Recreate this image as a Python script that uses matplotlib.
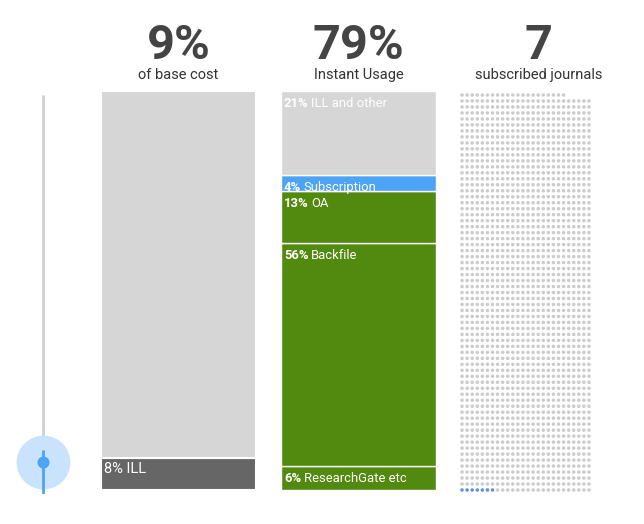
import matplotlib
matplotlib.use("Agg")
import matplotlib.pyplot as plt
import numpy as np

plt.rcParams['font.family'] = ['Roboto', 'DejaVu Sans']

# header numbers
headers = ["9%", "79%", "7"]
subtitles = ["of base cost", "Instant Usage", "subscribed journals"]

# bar 1: base cost (bottom -> top)
cost_pct = [8, 92]
cost_names = ["ILL", ""]
cost_colors = ["#666666", "#d6d6d6"]

# bar 2: instant usage (bottom -> top)
usage_pct = [6, 56, 13, 4, 21]
usage_names = ["ResearchGate etc", "Backfile", "OA", "Subscription", "ILL and other"]
usage_colors = ["#518a0f", "#518a0f", "#518a0f", "#4da3f5", "#d6d6d6"]

# dot grid of journals
n_journals = 1737
n_subscribed = 7
grid_cols = 26

# slider
slider_value = 8

W, H = 644, 524
fig = plt.figure(figsize=(W / 100, H / 100), dpi=100)
fig.patch.set_facecolor("white")


def add_ax(x0, y0, x1, y1):
    # pixel box (top-left origin) -> figure axes
    ax = fig.add_axes([x0 / W, 1 - y1 / H, (x1 - x0) / W, (y1 - y0) / H])
    ax.set_axis_off()
    return ax


def seg_label(ax, top_val, pct, name, bold):
    if bold:
        t1 = ax.annotate(f"{pct}%", xy=(-0.5, top_val), xytext=(3, -6),
                         textcoords="offset pixels", va="top", ha="left",
                         color="white", fontsize=9.4, fontweight="bold")
        fig.canvas.draw()
        w = t1.get_window_extent().width
        ax.annotate(name, xy=(-0.5, top_val), xytext=(3 + w + 2.5, -6),
                    textcoords="offset pixels", va="top", ha="left",
                    color="white", fontsize=9.4)
    else:
        ax.annotate(f"{pct}% {name}", xy=(-0.5, top_val), xytext=(3, -4),
                    textcoords="offset pixels", va="top", ha="left",
                    color="white", fontsize=10.5)


# bar 1
ax1 = add_ax(101, 91, 256, 490)
bottom = 0
for p, n, c in zip(cost_pct, cost_names, cost_colors):
    ax1.bar(0, p, bottom=bottom, width=1, color=c, edgecolor="white", linewidth=1.5)
    if n:
        seg_label(ax1, bottom + p, p, n, False)
    bottom += p
ax1.set_xlim(-0.5, 0.5)
ax1.set_ylim(0, 100)

# bar 2
ax2 = add_ax(281, 91, 436, 490)
bottom = 0
for p, n, c in zip(usage_pct, usage_names, usage_colors):
    ax2.bar(0, p, bottom=bottom, width=1, color=c, edgecolor="white", linewidth=1)
    seg_label(ax2, bottom + p, p, n, True)
    bottom += p
ax2.set_xlim(-0.5, 0.5)
ax2.set_ylim(0, 100)

# dot grid
n_rows = int(np.ceil(n_journals / grid_cols))
ax3 = add_ax(459.5, 92, 591.5, 493)
idx = np.arange(n_journals)
rows, cols = np.divmod(idx, grid_cols)
colors = np.where(idx < n_subscribed, "#5b93d3", "#cccccc")
ax3.scatter(cols, rows, s=6.5, c=colors, linewidths=0)
ax3.set_xlim(-0.5, grid_cols - 0.5)
ax3.set_ylim(-0.5, n_rows - 0.5)

# headers
centers = [178.5, 358.5, 538.5]
for cx, h, s in zip(centers, headers, subtitles):
    fig.text(cx / W, 1 - 59 / H, h, ha="center", va="baseline",
             fontsize=35, fontweight="bold", color="#444444")
    fig.text(cx / W, 1 - 79 / H, s, ha="center", va="baseline",
             fontsize=10.5, color="#333333")

# slider
ax0 = add_ax(13, 95, 73, 494)
ax0.plot([0, 0], [slider_value, 100], color="#cfcfcf", lw=2, solid_capstyle="butt")
ax0.scatter([0], [slider_value], s=1500, color="#c9e3fc", zorder=3, clip_on=False, linewidths=0)
ax0.plot([0, 0], [0, slider_value + 3], color="#4da3f5", lw=2, zorder=4, solid_capstyle="butt")
ax0.scatter([0], [slider_value], s=75, color="#4da3f5", zorder=5, clip_on=False, linewidths=0)
ax0.set_xlim(-1, 1)
ax0.set_ylim(0, 100)

fig.savefig("out.png", dpi=100)
